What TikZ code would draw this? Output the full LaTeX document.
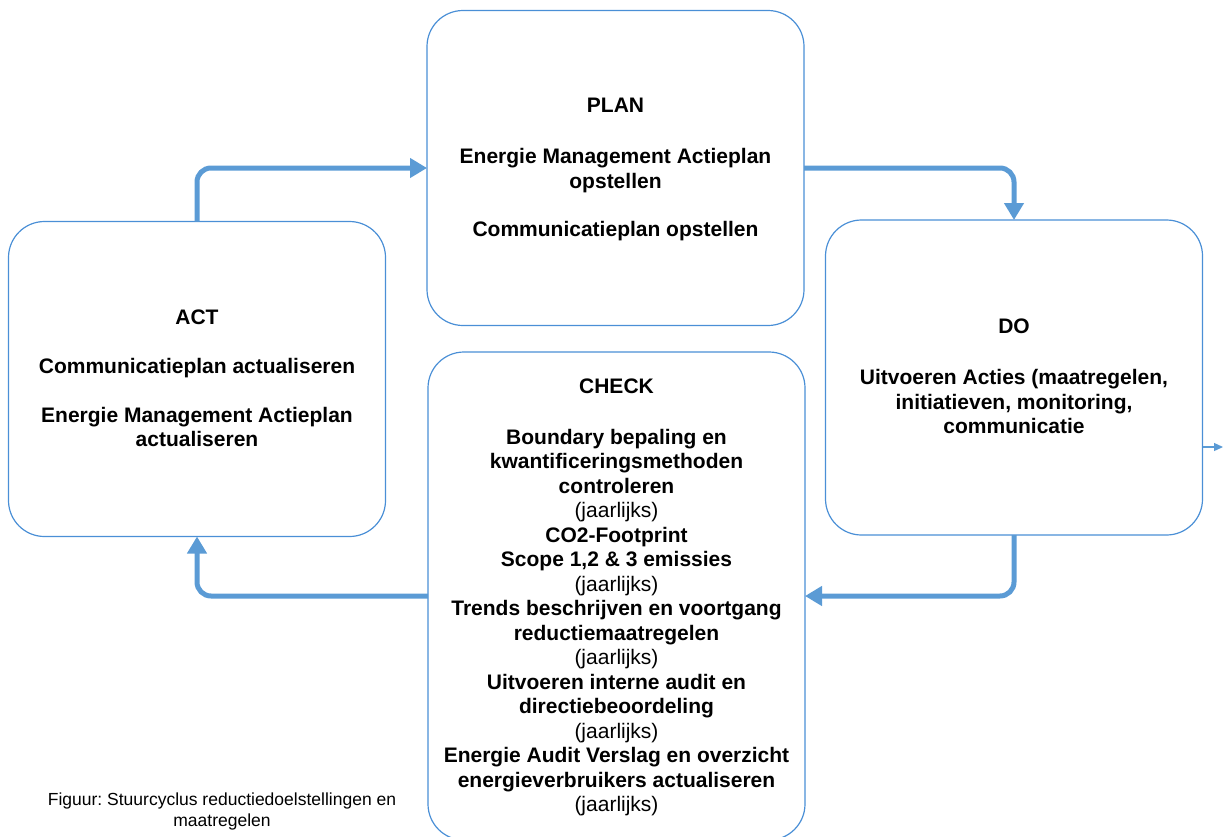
\documentclass[tikz,border=0pt]{standalone}
\usepackage{fontspec}
\setmainfont{Liberation Sans}
\frenchspacing
\usetikzlibrary{arrows.meta}
\definecolor{cycleblue}{HTML}{5B9BD5}
\definecolor{boxblue}{HTML}{4A8FD6}
\begin{document}
\begin{tikzpicture}[x=1pt, y=-1pt]
        \tikzset{
            phasebox/.style={draw=boxblue, line width=1.2pt, rounded corners=36pt,
                minimum width=377pt, minimum height=315pt, inner sep=0pt, outer sep=0pt},
            cyclearrow/.style={draw=cycleblue, line width=5pt, rounded corners=14pt,
                -{Triangle[length=17pt, width=19pt]}},
            phasetext/.style={anchor=north, inner sep=0pt, align=center,
                font=\fontsize{21}{24.5}\selectfont\bfseries},
            notetext/.style={anchor=north, inner sep=0pt, align=center,
                font=\fontsize{17.5}{21}\selectfont}
        }
        \useasboundingbox (0,0) rectangle (1223,836);

        % the four phases
        \node[phasebox] (plan) at (615.5,168) {};
        \node[phasebox] (act) at (197,379) {};
        \node[phasebox] (do) at (1014,377.5) {};
        \node[phasebox, minimum height=488pt] (check) at (616.5,596) {};

        \node[phasetext] (plantext) at (615.5,97.5) {PLAN\\[27pt]
            Energie Management Actieplan\\opstellen\\[24pt]
            Communicatieplan opstellen};
        \node[phasetext] (acttext) at (197,309.5) {ACT\\[24.5pt]
            Communicatieplan actualiseren\\[24.5pt]
            Energie Management Actieplan\\actualiseren};
        \node[phasetext] (dotext) at (1014,318.5) {DO\\[27pt]
            Uitvoeren Acties (maatregelen,\\initiatieven, monitoring,\\communicatie};
        \node[phasetext] (checktext) at (616.5,378.5) {CHECK\\[26.5pt]
            Boundary bepaling en\\kwantificeringsmethoden\\controleren\\
            \mdseries(jaarlijks)\\
            CO2-Footprint\\Scope 1,2 \& 3 emissies\\
            \mdseries(jaarlijks)\\
            Trends beschrijven en voortgang\\reductiemaatregelen\\
            \mdseries(jaarlijks)\\
            Uitvoeren interne audit en\\directiebeoordeling\\
            \mdseries(jaarlijks)\\
            Energie Audit Verslag en overzicht\\energieverbruikers actualiseren\\
            \mdseries(jaarlijks)};

        \node[notetext] (caption) at (222,793) {Figuur: Stuurcyclus reductiedoelstellingen en\\maatregelen};

        % cycle
        \draw[cyclearrow] (act.north) |- (plan.west);
        \draw[cyclearrow] (plan.east) -| (do.north);
        \draw[cyclearrow] (do.south) |- (check.east);
        \draw[cyclearrow] (check.west) -| (act.south);

        \coordinate (doout) at (1223,447);
        \draw[draw=cycleblue, line width=1.2pt, -{Triangle[length=9pt, width=8pt]}] (do.east |- doout) -- (doout);
    \end{tikzpicture}
\end{document}
